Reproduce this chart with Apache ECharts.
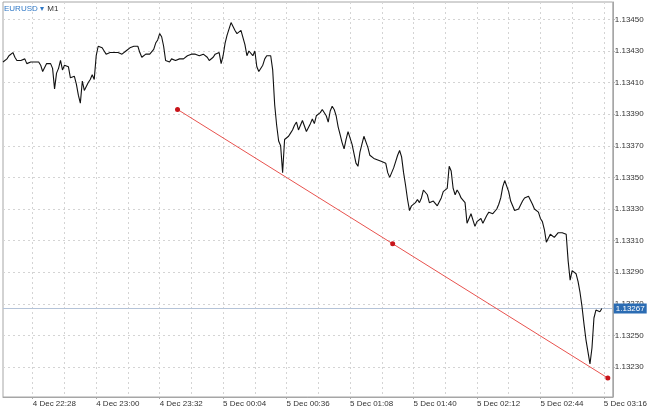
<!DOCTYPE html>
<html>
<head>
<meta charset="utf-8">
<script src="https://cdn.jsdelivr.net/npm/echarts@6/dist/echarts.min.js"></script>
<style>
  html, body { margin: 0; padding: 0; background: #fff; }
  #chart { width: 650px; height: 411px; }
</style>
</head>
<body>
<div id="chart"></div>
<script>
// EURUSD M1 closes, one per minute starting 4 Dec 22:13 (minute 1333 of 4 Dec)
const startMinute = 1333;
const closes = [
  1.13423, 1.13424, 1.13425, 1.13427, 1.13428, 1.13429, 1.13426, 1.13424, 1.13424, 1.13424,
  1.13424, 1.13425, 1.13422, 1.13423, 1.13423, 1.13423, 1.13423, 1.13423, 1.13423, 1.13421,
  1.13417, 1.13418, 1.13422, 1.13423, 1.13422, 1.13419, 1.13406, 1.13416, 1.13419, 1.13424,
  1.13418, 1.13421, 1.13422, 1.13420, 1.13413, 1.13412, 1.13414, 1.13409, 1.13402, 1.13397,
  1.13411, 1.13405, 1.13405, 1.13410, 1.13412, 1.13415, 1.13412, 1.13427, 1.13433, 1.13432,
  1.13432, 1.13430, 1.13428, 1.13428, 1.13429, 1.13430, 1.13429, 1.13429, 1.13429, 1.13429,
  1.13428, 1.13429, 1.13430, 1.13431, 1.13432, 1.13433, 1.13433, 1.13434, 1.13433, 1.13429,
  1.13426, 1.13425, 1.13428, 1.13427, 1.13428, 1.13428, 1.13431, 1.13435, 1.13437, 1.13441,
  1.13439, 1.13433, 1.13424, 1.13423, 1.13423, 1.13425, 1.13426, 1.13424, 1.13425, 1.13425,
  1.13425, 1.13425, 1.13426, 1.13427, 1.13428, 1.13428, 1.13427, 1.13428, 1.13428, 1.13427,
  1.13428, 1.13428, 1.13427, 1.13426, 1.13424, 1.13424, 1.13426, 1.13428, 1.13429, 1.13429,
  1.13422, 1.13427, 1.13435, 1.13440, 1.13444, 1.13448, 1.13447, 1.13443, 1.13441, 1.13442,
  1.13443, 1.13442, 1.13434, 1.13427, 1.13430, 1.13430, 1.13427, 1.13430, 1.13420, 1.13417,
  1.13418, 1.13421, 1.13425, 1.13427, 1.13428, 1.13427, 1.13418, 1.13396, 1.13383, 1.13373,
  1.13370, 1.13353, 1.13374, 1.13375, 1.13376, 1.13378, 1.13380, 1.13383, 1.13385, 1.13380,
  1.13383, 1.13386, 1.13385, 1.13379, 1.13379, 1.13384, 1.13387, 1.13384, 1.13389, 1.13390,
  1.13391, 1.13393, 1.13392, 1.13389, 1.13385, 1.13392, 1.13395, 1.13393, 1.13389, 1.13382,
  1.13377, 1.13372, 1.13368, 1.13374, 1.13379, 1.13380, 1.13371, 1.13365, 1.13359, 1.13357,
  1.13366, 1.13371, 1.13376, 1.13375, 1.13369, 1.13364, 1.13365, 1.13362, 1.13362, 1.13361,
  1.13360, 1.13360, 1.13361, 1.13359, 1.13353, 1.13350, 1.13351, 1.13356, 1.13360, 1.13364,
  1.13367, 1.13363, 1.13353, 1.13345, 1.13336, 1.13329, 1.13332, 1.13333, 1.13334, 1.13336,
  1.13334, 1.13337, 1.13342, 1.13343, 1.13339, 1.13334, 1.13334, 1.13335, 1.13334, 1.13332,
  1.13333, 1.13337, 1.13341, 1.13340, 1.13343, 1.13357, 1.13354, 1.13343, 1.13339, 1.13342,
  1.13340, 1.13337, 1.13337, 1.13334, 1.13321, 1.13324, 1.13327, 1.13323, 1.13319, 1.13322,
  1.13323, 1.13324, 1.13321, 1.13321, 1.13326, 1.13328, 1.13327, 1.13327, 1.13327, 1.13330,
  1.13333, 1.13337, 1.13344, 1.13348, 1.13347, 1.13341, 1.13335, 1.13332, 1.13329, 1.13329,
  1.13330, 1.13331, 1.13335, 1.13337, 1.13338, 1.13338, 1.13337, 1.13333, 1.13330, 1.13329,
  1.13328, 1.13324, 1.13322, 1.13317, 1.13309, 1.13309, 1.13314, 1.13315, 1.13312, 1.13311,
  1.13315, 1.13315, 1.13315, 1.13315, 1.13314, 1.13297, 1.13285, 1.13291, 1.13292, 1.13289,
  1.13284, 1.13277, 1.13268, 1.13257, 1.13247, 1.13246, 1.13232, 1.13242, 1.13261, 1.13266,
  1.13266, 1.13265, 1.13267
];

// trend line drawn on the chart (3 anchor points)
const trendMinutes = [1421, 1529.5, 1638];
const trendValues = [1.13393, 1.13308, 1.13223];

// current price line
const lastPrice = 1.13267;

// axis ticks
const yTicks = [1.13230, 1.13250, 1.13270, 1.13290, 1.13310, 1.13330, 1.13350, 1.13370, 1.13390, 1.13410, 1.13430, 1.13450];
const xLabelMinutes = [1348, 1380, 1412, 1444, 1476, 1508, 1540, 1572, 1604, 1636];
const xGridMinutes = [1348, 1364, 1380, 1396, 1412, 1428, 1444, 1460, 1476, 1492, 1508, 1524, 1540, 1556, 1572, 1588, 1604, 1620, 1636];

const xMin = 1333;
const xMax = 1640.5;

function fmtMinute(m) {
  const day = m >= 1440 ? 5 : 4;
  const mm = m % 1440;
  const h = Math.floor(mm / 60);
  const mi = mm % 60;
  return day + ' Dec ' + String(h).padStart(2, '0') + ':' + String(mi).padStart(2, '0');
}

const priceData = closes.map(function (v, i) { return [startMinute + i, v]; });
const trendData = trendMinutes.map(function (m, i) { return [m, trendValues[i]]; });
const lastPriceData = [[xMin, lastPrice], [xMax, lastPrice]];

const gridLineStyle = { color: '#d4d4d4', type: [2, 3], width: 1 };

let myChart = echarts.init(document.getElementById('chart'));
const option = {
  animation: false,
  textStyle: { fontFamily: 'Liberation Sans, Arial, sans-serif' },
  grid: {
    left: 3,
    right: 32,
    top: 2,
    bottom: 14,
    show: true,
    borderColor: '#a6a6a6',
    borderWidth: 1
  },
  graphic: [
    {
      type: 'text',
      left: 4,
      top: 3,
      z: 100,
      style: {
        text: '{b|EURUSD ▾} {d|M1}',
        rich: {
          b: { fill: '#2f78c6', fontSize: 8, fontFamily: 'Liberation Sans' },
          d: { fill: '#333', fontSize: 8, fontFamily: 'Liberation Sans' }
        }
      }
    }
  ],
  xAxis: [
    {
      type: 'value',
      min: xMin,
      max: xMax,
      axisLine: { show: true, lineStyle: { color: '#a6a6a6' } },
      axisTick: {
        show: true,
        length: 2,
        customValues: xLabelMinutes,
        lineStyle: { color: '#a6a6a6' }
      },
      axisLabel: {
        customValues: xLabelMinutes,
        formatter: function (v) { return fmtMinute(v); },
        fontSize: 8,
        color: '#333',
        align: 'left',
        margin: 3,
        hideOverlap: false
      },
      splitLine: { show: false }
    },
    {
      // only for the dotted vertical grid (every 16 minutes)
      type: 'value',
      min: xMin,
      max: xMax,
      position: 'bottom',
      axisLine: { show: false },
      axisTick: { show: false, customValues: xGridMinutes },
      axisLabel: { show: false, customValues: xGridMinutes },
      splitLine: { show: true, lineStyle: gridLineStyle }
    }
  ],
  yAxis: {
    type: 'value',
    position: 'right',
    min: 1.13211,
    max: 1.13461,
    axisLine: { show: true, lineStyle: { color: '#a6a6a6' } },
    axisTick: {
      show: true,
      inside: false,
      length: 2,
      customValues: yTicks,
      lineStyle: { color: '#a6a6a6' }
    },
    axisLabel: {
      customValues: yTicks,
      formatter: function (v) { return v.toFixed(5); },
      fontSize: 8,
      color: '#333',
      margin: 2
    },
    splitLine: { show: true, lineStyle: gridLineStyle }
  },
  series: [
    {
      name: 'last',
      type: 'line',
      data: lastPriceData,
      symbol: 'none',
      silent: true,
      z: 1,
      lineStyle: { color: '#b4c3d8', width: 1 },
      endLabel: {
        show: true,
        distance: 1,
        formatter: function () { return lastPrice.toFixed(5); },
        color: '#fff',
        fontSize: 8,
        backgroundColor: '#2b6cb3',
        padding: [1, 2, 1, 2]
      }
    },
    {
      name: 'EURUSD',
      type: 'line',
      data: priceData,
      symbol: 'none',
      z: 3,
      lineStyle: { color: '#111', width: 1.1 }
    },
    {
      name: 'trend',
      type: 'line',
      data: trendData,
      symbol: 'circle',
      symbolSize: 5,
      showSymbol: true,
      z: 4,
      itemStyle: { color: '#c8141a' },
      lineStyle: { color: '#e8524e', width: 1 }
    }
  ]
};
myChart.setOption(option, (window.onresize = myChart.resize));
</script>
</body>
</html>
